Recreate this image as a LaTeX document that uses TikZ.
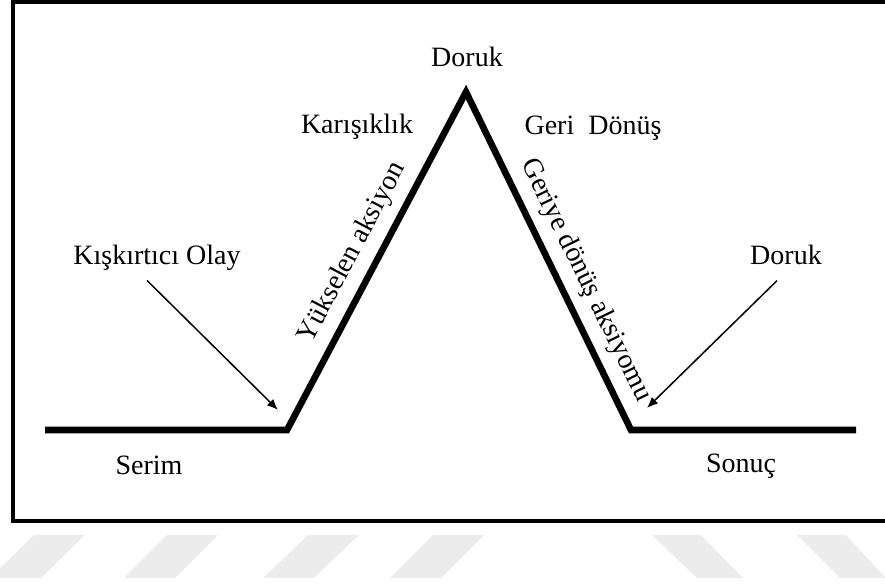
\documentclass[tikz,border=0pt]{standalone}
\usepackage{fontspec}
\setmainfont{Liberation Serif}
\usetikzlibrary{arrows.meta}
\definecolor{markgray}{RGB}{236, 236, 236}
\tikzset{
	labeltext/.style={
		anchor=base, inner sep=0pt,
		font=\fontsize{14}{16}\selectfont
	},
	slopetext/.style={
		sloped, above, inner sep=4.5pt,
		font=\fontsize{14}{16}\selectfont
	},
	arcline/.style={
		line width=3.3pt, line join=miter, color=black
	},
	pointer/.style={
		-{Latex[length=5.5pt, width=4.5pt]}, line width=0.75pt, color=black
	},
	framebox/.style={
		line width=2pt, color=black
	},
	watermark/.style={
		fill=markgray, draw=none
	}
}

\begin{document}
\begin{tikzpicture}[x=0.5pt, y=-0.5pt]
		\useasboundingbox (0,0) rectangle (885,588);
		
		%% ═══════════════════════════════
		%%  FRAME
		%% ═══════════════════════════════
		\draw[framebox] (885,2) -| (12.5,521) -- (885,521);
		
		%% ═══════════════════════════════
		%%  PLOT LINE
		%% ═══════════════════════════════
		\coordinate (serimstart) at (45,430);
		\coordinate (leftfoot)   at (287,430);
		\coordinate (peak)       at (466,92);
		\coordinate (rightfoot)  at (631,430);
		\coordinate (sonucend)   at (856,430);
		
		\draw[arcline] (serimstart) -- (leftfoot)
		-- node[slopetext, pos=0.49] {Yükselen aksiyon} (peak)
		-- node[slopetext, pos=0.59] {Geriye dönüş aksiyomu} (rightfoot)
		-- (sonucend);
		
		%% ═══════════════════════════════
		%%  LABELS
		%% ═══════════════════════════════
		\node[labeltext] (toppeak)    at (467,67)  {Doruk};
		\node[labeltext] (karisiklik) at (357,134) {Karışıklık};
		\node[labeltext] (geridonus)  at (593,135) {Geri\ \ Dönüş};
		\node[labeltext] (olay)       at (157,265) {Kışkırtıcı Olay};
		\node[labeltext] (sondoruk)   at (786,265) {Doruk};
		\node[labeltext] (serim)      at (149,475) {Serim};
		\node[labeltext] (sonuc)      at (741,473) {Sonuç};
		
		%% ═══════════════════════════════
		%%  ARROWS
		%% ═══════════════════════════════
		\coordinate (incite)    at (278,410);
		\coordinate (climaxtip) at (647,408);
		
		% Kışkırtıcı Olay -> left foot
		\draw[pointer] (olay.south) ++(-10,9) -- (incite);
		
		% Doruk -> right foot
		\draw[pointer] (sondoruk.south) ++(-9,15) -- (climaxtip);
		
		%% ═══════════════════════════════
		%%  BACKGROUND MARKS
		%% ═══════════════════════════════
		\foreach \tx/\bx in {34/-10, 167/124, 308/263, 433/390}
		\fill[watermark] (\tx,535) -- ++(51,0) -- (\bx+51,578) -- (\bx,578) -- cycle;
		\foreach \tx/\bx in {652/697, 797/840}
		\fill[watermark] (\tx,535) -- ++(49,0) -- (\bx+46,578) -- (\bx,578) -- cycle;
	\end{tikzpicture}
\end{document}
